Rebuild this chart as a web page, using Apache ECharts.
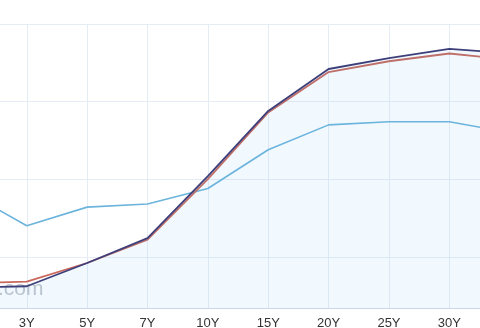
<!DOCTYPE html>
<html>
<head>
<meta charset="utf-8">
<style>
  html, body { margin: 0; padding: 0; background: #ffffff; }
  #chart { width: 480px; height: 328px; }
</style>
<script src="https://cdn.jsdelivr.net/npm/echarts@6/dist/echarts.min.js"></script>
</head>
<body>
<div id="chart"></div>
<script>
// Maturities along the curve
var maturities = ['2Y', '3Y', '5Y', '7Y', '10Y', '15Y', '20Y', '25Y', '30Y', '40Y'];

// Yields (%) for each curve
var yieldsCurrent  = [3.80, 3.81, 3.96, 4.12, 4.52, 4.94, 5.21, 5.28, 5.34, 5.31];
var yieldsPrevious = [3.83, 3.84, 3.96, 4.11, 4.50, 4.93, 5.19, 5.26, 5.31, 5.27];
var yieldsYearAgo  = [4.42, 4.20, 4.32, 4.34, 4.44, 4.69, 4.85, 4.87, 4.87, 4.80];

// Value range of the yield axis
var yieldMin = 3.67;
var yieldMax = 5.5;

var chart = echarts.init(document.getElementById('chart'), null, { renderer: 'canvas' });

var gridColor = '#e6ecf5';

chart.setOption({
  animation: false,
  backgroundColor: '#ffffff',
  grid: {
    left: -33.6, right: -29.7, top: 24, bottom: 20,
    containLabel: false,
    outerBoundsMode: 'none'
  },
  xAxis: {
    type: 'category',
    data: maturities,
    boundaryGap: false,
    axisLine: { show: true, lineStyle: { color: '#ccd6eb', width: 1 } },
    axisTick: { show: false },
    axisLabel: {
      interval: 0,
      color: '#333333',
      fontSize: 13,
      fontFamily: 'Liberation Sans, Arial, sans-serif',
      margin: 9
    },
    splitLine: { show: true, lineStyle: { color: gridColor, width: 1 } }
  },
  yAxis: {
    type: 'value',
    min: yieldMin,
    max: yieldMax,
    splitNumber: 4,
    minInterval: 0.5,
    maxInterval: 0.5,
    axisLine: { show: false },
    axisTick: { show: false },
    axisLabel: { show: false },
    splitLine: { show: true, lineStyle: { color: gridColor, width: 1 } }
  },
  graphic: [{
    type: 'text',
    left: -2,
    top: 279,
    z: 1,
    silent: true,
    style: {
      text: '.com',
      fill: 'rgba(150,158,170,0.6)',
      font: '21px "Liberation Sans", Arial, sans-serif'
    }
  }],
  series: [
    {
      name: 'Year ago',
      type: 'line',
      data: yieldsYearAgo,
      symbol: 'none',
      z: 3,
      lineStyle: { color: '#6cb4dc', width: 1.6 }
    },
    {
      name: 'Previous',
      type: 'line',
      data: yieldsPrevious,
      symbol: 'none',
      z: 4,
      lineStyle: { color: '#c8685c', width: 1.8 }
    },
    {
      name: 'Current',
      type: 'line',
      data: yieldsCurrent,
      symbol: 'none',
      z: 5,
      lineStyle: { color: '#3d3f7a', width: 1.8 },
      areaStyle: { color: 'rgba(110,185,245,0.12)', origin: 'start' }
    }
  ]
});
</script>
</body>
</html>
